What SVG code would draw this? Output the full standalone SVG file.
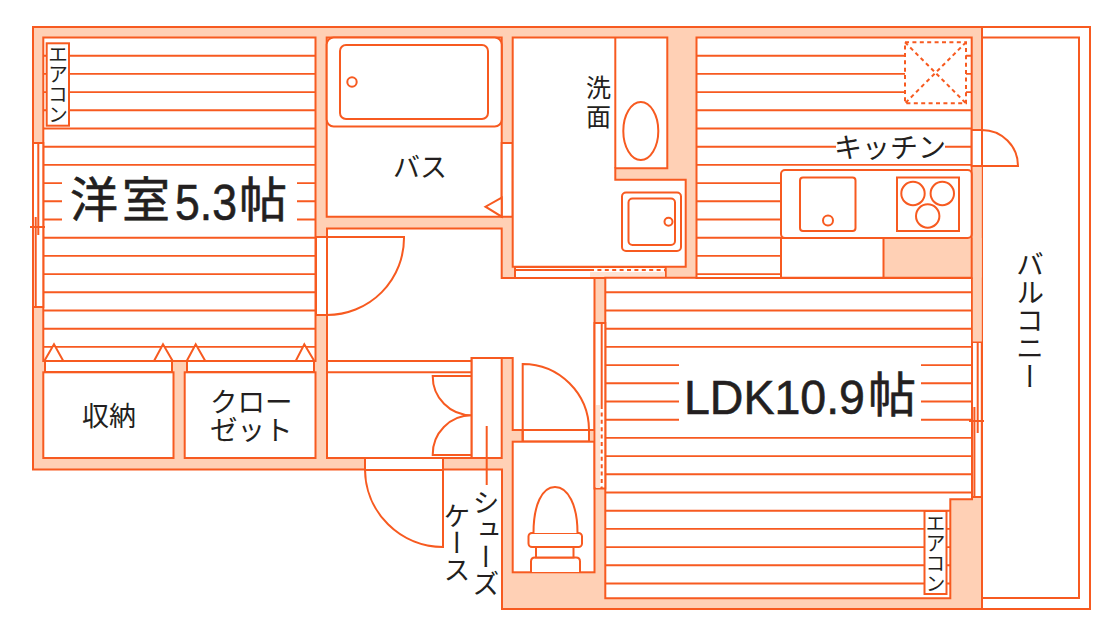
<svg xmlns="http://www.w3.org/2000/svg" width="1120" height="637" viewBox="0 0 1120 637">
<style>
.w{fill:#FFD0B5;stroke:#F75A20;stroke-width:2}
.r{fill:#fff;stroke:#F75A20;stroke-width:2;stroke-linejoin:miter}
.l{fill:none;stroke:#F75A20;stroke-width:2}
.f{fill:none;stroke:#F75A20;stroke-width:1.9}
.d{fill:none;stroke:#F75A20;stroke-width:2;stroke-dasharray:4 3.4}
text{font-family:"Noto Sans CJK JP","Noto Sans",sans-serif;fill:#231F20}
.v{writing-mode:vertical-rl;text-orientation:upright}
.n{font-family:"Liberation Sans","Noto Sans CJK JP",sans-serif}
.b{stroke:#231F20;stroke-width:.6}
</style>
<rect width="1120" height="637" fill="#fff"/>
<g id="walls">
<path class="w" d="M33 27H982V609H502V469.500H33Z"/>
<path class="l" d="M982 27H1090V609H982M982 37.500H1079V598H982"/>
<path class="l" d="M982 27V609"/>
</g>
<g id="room-western">
<path class="r" d="M43.300 37.500H315.500V361H43.300Z"/>
<path class="f" d="M43 55.700H315M43 73.900H315M43 92.100H315M43 110.300H315M43 128.500H315M43 146.700H315M43 164.900H315M43 183.100H62M297 183.100H315M43 201.300H62M297 201.300H315M43 219.500H62M297 219.500H315M43 237.700H315M43 255.900H315M43 274.100H315M43 292.300H315M43 310.500H315M43 328.700H315M43 346.900H315"/>
<rect class="r" x="46.700" y="43.300" width="22.300" height="82.400"/>
<path class="r" d="M33 143H43.300V307H33Z"/>
<path class="l" d="M38.300 143V235M35.700 217V307M30 227H45"/>
<path class="r" d="M44.300 361L54 344.300L63.300 361ZM154 361L163 344.300L172.700 361ZM186.700 361L195.700 344.300L205.300 361ZM295.700 361L304.300 344.300L314.300 361Z"/>
<path class="r" d="M45 361H172V372H45ZM187 361H314V372H187Z"/>
</g>
<g id="closets">
<rect class="r" x="43.300" y="372.300" width="130.200" height="85.700"/>
<rect class="r" x="184.700" y="372.300" width="130.800" height="85.700"/>
</g>
<g id="bath">
<path class="r" d="M326.700 37.500H501.700V216.700H326.700Z"/>
<rect class="r" x="326.700" y="37.500" width="175" height="89" rx="7"/>
<rect class="r" x="340" y="45" width="148" height="74" rx="6"/>
<circle class="r" cx="352" cy="82" r="4.700"/>
<path class="r" d="M501.700 143H512.700V216.700H501.700Z"/>
<path class="r" d="M501.700 197.700L485.500 206.700L501.700 216.700Z"/>
</g>
<g id="wash">
<path class="r" d="M512.700 37.500H667.300V168.300H615.300V179.700H685.700V266.700H512.700Z"/>
<path class="l" d="M615.300 37.500V168.300"/>
<ellipse class="r" cx="640.800" cy="131" rx="17.500" ry="29"/>
<rect class="r" x="622" y="192.500" width="59" height="58.500" rx="4"/>
<rect class="r" x="628.500" y="198.500" width="46.500" height="46.500" rx="4"/>
<circle class="r" cx="668.500" cy="221.700" r="4"/>
<rect class="r" x="515" y="267" width="150.700" height="11"/>
<rect x="590" y="272" width="75" height="5" fill="#FFE3D3"/>
<path class="l" d="M515 270H590"/>
<path class="d" d="M590 270H665"/>
</g>
<g id="hall">
<path class="r" d="M327 228.500H501.700V278H594.500V430H512.700V358H471.700V361H327Z"/>
<path class="r" d="M316 237H327V315H316Z"/>
<path class="l" d="M316 237H404A77 77 0 0 1 327 315H316"/>
<path class="r" d="M327 361H471.700V458H327Z"/>
<path class="l" d="M327 372.300H471.700"/>
<rect class="r" x="471.700" y="358" width="30" height="100"/>
<path class="l" d="M471.700 376H432.700A39 39 0 0 0 471.700 415.300A39 39 0 0 0 432.700 455H471.700"/>
<path class="r" d="M365 458H443V470H365Z"/>
<path class="l" d="M365 469.500A78 78 0 0 0 443 547V458"/>
<path class="l" d="M486.700 426V485"/>
</g>
<g id="toilet">
<rect class="r" x="522.700" y="430" width="66.300" height="11.500"/>
<path class="l" d="M522.700 441.500V364A66.300 66.300 0 0 1 589 430V441.500"/>
<rect class="r" x="512.700" y="441.700" width="81.800" height="130.600"/>
<path class="r" d="M531 572V561.500Q531 557.500 535 557.500H576Q580 557.500 580 561.500V572"/>
<rect class="r" x="536" y="547" width="37.500" height="10.500"/>
<rect class="r" x="528.500" y="533" width="53.500" height="14" rx="3.500"/>
<path class="r" d="M533.500 533C533.500 505 542 487 555 487C568 487 577.500 505 577.500 533"/>
</g>
<g id="ldk">
<path class="r" d="M605.300 277.700H972V499.300H950.300V598.200H605.300Z"/>
<path class="f" d="M605 292.300H972M605 310.500H972M605 328.700H972M605 346.900H972M605 365.100H679M921 365.100H972M605 383.300H679M921 383.300H972M605 401.500H679M921 401.500H972M605 419.700H679M921 419.700H972M605 437.900H972M605 456.100H972M605 474.300H972M605 492.500H972M605 510.700H950M605 528.900H924M944 528.900H950M605 547.100H924M944 547.100H950M605 565.300H924M944 565.300H950M605 583.500H924M944 583.500H950"/>
<rect class="r" x="924.500" y="511" width="22" height="83"/>
<rect class="r" x="594.500" y="323" width="10.800" height="165.500"/>
<rect x="596" y="405" width="4" height="83" fill="#FFE3D3"/>
<path class="l" d="M601.700 323V405"/>
<path class="d" d="M601.700 405V488"/>
<rect class="r" x="972" y="342" width="9.800" height="155"/>
<path class="l" d="M977.700 342V433M974.400 407V497M969 421H984"/>
</g>
<g id="kitchen">
<path class="r" d="M696.500 37.500H971.700V278H696.500Z"/>
<path class="f" d="M697 55.700H905M966 55.700H972M697 73.900H905M966 73.900H972M697 92.100H905M966 92.100H972M697 110.300H972M697 128.500H972M697 146.700H836M945 146.700H972M697 164.900H972M697 183.100H781M697 201.300H781M697 219.500H781M697 237.700H781M697 255.900H781M697 274.100H781"/>
<path class="d" d="M905 42.300H966V103.300H905ZM905 42.300L966 103.300M966 42.300L905 103.300"/>
<rect x="883.500" y="238" width="98" height="39.500" fill="#FFD0B5"/>
<rect x="972.800" y="166.500" width="9" height="175" fill="#FFD0B5"/>
<path class="r" d="M781 238H883.500V277.700H781Z"/>
<path class="l" d="M883.500 277.700H971.700V238"/>
<rect class="r" x="781" y="170" width="190.700" height="68" rx="4"/>
<rect class="r" x="800" y="177.500" width="55.500" height="53.500" rx="3"/>
<circle class="r" cx="828" cy="220.500" r="5"/>
<rect class="r" x="897" y="177.500" width="62" height="53.500"/>
<circle class="r" cx="913" cy="193.500" r="11.700"/>
<circle class="r" cx="942.300" cy="193.500" r="11.700"/>
<circle class="r" cx="927.700" cy="216" r="11.700"/>
<rect class="r" x="971.700" y="130" width="10.300" height="36"/>
<path class="l" d="M971.700 130H982A36 36 0 0 1 1018 166H971.700M982 130V166"/>
</g>
<g id="labels">
<text class="b" y="217" font-size="48"><tspan x="70">洋</tspan><tspan x="122">室</tspan><tspan class="n" x="175" y="220" font-size="50" textLength="62" lengthAdjust="spacingAndGlyphs">5.3</tspan><tspan x="239" y="217">帖</tspan></text>
<text class="b" y="414" font-size="49"><tspan class="n" x="684" textLength="181" lengthAdjust="spacingAndGlyphs">LDK10.9</tspan><tspan x="868" y="412" font-size="48">帖</tspan></text>
<text x="834" y="158" font-size="28">キッチン</text>
<text x="393" y="177" font-size="27">バス</text>
<text x="586" y="97" font-size="25">洗<tspan x="586" dy="28.500">面</tspan></text>
<text x="82" y="426" font-size="27">収納</text>
<text x="210" y="412" font-size="27.500">クロー<tspan x="210" dy="28">ゼット</tspan></text>
<text class="v" x="58" y="44" font-size="20">エアコン</text>
<text class="v" x="935.500" y="513" font-size="20">エアコン</text>
<text class="v" x="486" y="489" font-size="27">シューズ</text>
<text class="v" x="457" y="502" font-size="27">ケース</text>
<text class="v" x="1030" y="250" font-size="28">バルコニー</text>
</g>
</svg>
